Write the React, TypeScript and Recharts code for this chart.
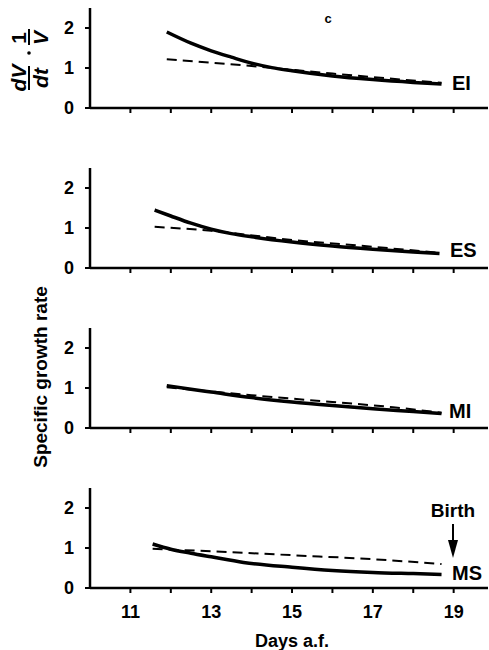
import React from 'react';
import { LineChart, Line, XAxis, YAxis } from 'recharts';

// Days after fertilisation, specific growth rate
const eiSolid = [
  { x: 11.9, y: 1.9 }, { x: 12.5, y: 1.62 }, { x: 13, y: 1.43 }, { x: 13.5, y: 1.27 },
  { x: 14, y: 1.12 }, { x: 14.5, y: 1.01 }, { x: 15, y: 0.93 }, { x: 16, y: 0.8 },
  { x: 17, y: 0.71 }, { x: 18, y: 0.64 }, { x: 18.7, y: 0.6 },
];
const eiDashed = [
  { x: 11.9, y: 1.22 }, { x: 14, y: 1.05 }, { x: 16, y: 0.86 }, { x: 18.7, y: 0.63 },
];
const esSolid = [
  { x: 11.6, y: 1.45 }, { x: 12, y: 1.3 }, { x: 12.5, y: 1.12 }, { x: 13, y: 0.97 },
  { x: 13.5, y: 0.86 }, { x: 14, y: 0.78 }, { x: 15, y: 0.65 }, { x: 16, y: 0.55 },
  { x: 17, y: 0.47 }, { x: 18, y: 0.4 }, { x: 18.65, y: 0.36 },
];
const esDashed = [
  { x: 11.6, y: 1.03 }, { x: 13, y: 0.93 }, { x: 15, y: 0.7 }, { x: 17, y: 0.53 }, { x: 18.65, y: 0.38 },
];
const miSolid = [
  { x: 11.9, y: 1.06 }, { x: 12.5, y: 0.97 }, { x: 13, y: 0.9 }, { x: 14, y: 0.76 },
  { x: 15, y: 0.65 }, { x: 16, y: 0.56 }, { x: 17, y: 0.48 }, { x: 18, y: 0.41 }, { x: 18.7, y: 0.36 },
];
const miDashed = [
  { x: 11.9, y: 1.02 }, { x: 14, y: 0.82 }, { x: 16, y: 0.65 }, { x: 17.5, y: 0.52 }, { x: 18.7, y: 0.38 },
];
const msSolid = [
  { x: 11.55, y: 1.1 }, { x: 12, y: 0.97 }, { x: 12.5, y: 0.87 }, { x: 13, y: 0.78 },
  { x: 13.8, y: 0.64 }, { x: 15, y: 0.52 }, { x: 16, y: 0.44 }, { x: 17, y: 0.39 },
  { x: 18, y: 0.36 }, { x: 18.7, y: 0.34 },
];
const msDashed = [
  { x: 11.55, y: 0.98 }, { x: 13.8, y: 0.88 }, { x: 15, y: 0.82 }, { x: 17, y: 0.72 }, { x: 18.7, y: 0.6 },
];

const panelNames = ['EI', 'ES', 'MI', 'MS'];
const xTicks = [11, 12, 13, 14, 15, 16, 17, 18, 19];
const yTicks = [0, 1, 2];

const panels = [
  { solid: eiSolid, dashed: eiDashed },
  { solid: esSolid, dashed: esDashed },
  { solid: miSolid, dashed: miDashed },
  { solid: msSolid, dashed: msDashed },
];

const FONT = '"Liberation Sans", Arial, Helvetica, sans-serif';
const tickStyle = { fontSize: 18, fontWeight: 'bold', fill: '#000', fontFamily: FONT };

function Panel({ solid, dashed, showLabels }: any) {
  return (
    <LineChart width={489} height={160} margin={{ top: 8, right: 1, bottom: 22, left: 0 }}>
      <XAxis
        type="number"
        dataKey="x"
        domain={[10, 19.85]}
        allowDataOverflow
        ticks={xTicks}
        height={30}
        tickSize={5}
        tickMargin={12}
        axisLine={{ stroke: '#000', strokeWidth: 2.5 }}
        tickLine={{ stroke: '#000', strokeWidth: 2 }}
        tick={tickStyle}
        tickFormatter={(v: number) => (showLabels && v % 2 === 1 ? String(v) : '')}
      />
      <YAxis
        type="number"
        dataKey="y"
        domain={[0, 2.5]}
        ticks={yTicks}
        width={90}
        tickSize={5}
        tickMargin={11}
        axisLine={{ stroke: '#000', strokeWidth: 2.5 }}
        tickLine={{ stroke: '#000', strokeWidth: 2 }}
        tick={tickStyle}
      />
      <Line data={dashed} dataKey="y" type="monotone" stroke="#000" strokeWidth={2}
        strokeDasharray="10 6" dot={false} isAnimationActive={false} />
      <Line data={solid} dataKey="y" type="monotone" stroke="#000" strokeWidth={3.5}
        dot={false} isAnimationActive={false} />
    </LineChart>
  );
}

export default function App() {
  const labelPos = [
    { x: 452, y: 90 },
    { x: 450, y: 257 },
    { x: 449, y: 418 },
    { x: 452, y: 580 },
  ];
  return (
    <div style={{ position: 'absolute', left: 0, top: 0, width: 489, height: 650, background: '#fff', fontFamily: FONT }}>
      {panels.map((p, i) => (
        <div key={i} style={{ position: 'absolute', left: 0, top: i * 160, width: 489, height: 160 }}>
          <Panel solid={p.solid} dashed={p.dashed} showLabels={i === 3} />
        </div>
      ))}
      <svg width={489} height={650} style={{ position: 'absolute', left: 0, top: 0, pointerEvents: 'none' }}>
        {panelNames.map((n, i) => (
          <text key={n} x={labelPos[i].x} y={labelPos[i].y} fontSize={20} fontWeight="bold" fontFamily={FONT} fill="#000">{n}</text>
        ))}
        <text x={328} y={23} fontSize={13} fontWeight="bold" fontFamily={FONT} textAnchor="middle" fill="#000">c</text>
        {/* Birth arrow */}
        <text x={453} y={517} fontSize={19} fontWeight="bold" fontFamily={FONT} textAnchor="middle" fill="#000">Birth</text>
        <line x1={453} y1={524} x2={453} y2={550} stroke="#000" strokeWidth={2} />
        <polygon points="448,540 458,540 453,558" fill="#000" />
        {/* x label */}
        <text x={255} y={647} fontSize={18} fontWeight="bold" fontFamily={FONT} fill="#000">Days a.f.</text>
        {/* y label */}
        <text transform="translate(47,377) rotate(-90)" textAnchor="middle" fontSize={19} fontWeight="bold" fontFamily={FONT} fill="#000">Specific growth rate</text>
        {/* dV/dt . 1/V */}
        <g transform="translate(29,60) rotate(-90)">
          <text x={-18} y={-3} textAnchor="middle" fontSize={21} fontStyle="italic" fontWeight="bold" fontFamily={FONT} fill="#000">dV</text>
          <line x1={-30} y1={0} x2={-6} y2={0} stroke="#000" strokeWidth={2} />
          <text x={-18} y={19} textAnchor="middle" fontSize={21} fontStyle="italic" fontWeight="bold" fontFamily={FONT} fill="#000">dt</text>
          <circle cx={7} cy={0} r={1.8} fill="#000" />
          <text x={22} y={-3} textAnchor="middle" fontSize={21} fontWeight="bold" fontFamily={FONT} fill="#000">1</text>
          <line x1={15} y1={0} x2={31} y2={0} stroke="#000" strokeWidth={2} />
          <text x={22} y={19} textAnchor="middle" fontSize={21} fontStyle="italic" fontWeight="bold" fontFamily={FONT} fill="#000">V</text>
        </g>
      </svg>
    </div>
  );
}
